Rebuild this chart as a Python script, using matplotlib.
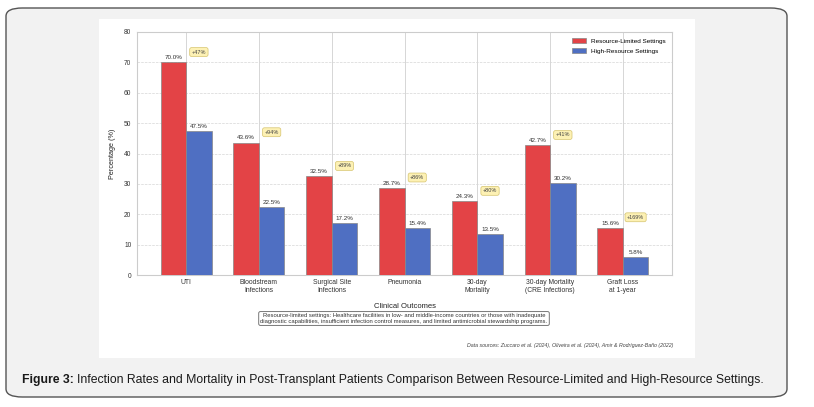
import numpy as np
import matplotlib.pyplot as plt
from matplotlib.patches import FancyBboxPatch

plt.rcParams['font.family'] = ['Liberation Sans', 'DejaVu Sans']

# 数据
categories = ["UTI", "Bloodstream\nInfections", "Surgical Site\nInfections", "Pneumonia",
              "30-day\nMortality", "30-day Mortality\n(CRE Infections)", "Graft Loss\nat 1-year"]
limited = [70.0, 43.6, 32.5, 28.7, 24.3, 42.7, 15.6]
high = [47.5, 22.5, 17.2, 15.4, 13.5, 30.2, 5.8]
diff_labels = ["+47%", "+94%", "+89%", "+86%", "+80%", "+41%", "+169%"]

red = '#e34346'
blue = '#4f6fc2'

fig = plt.figure(figsize=(8.14, 4.07), dpi=100)

# 外框
outer = FancyBboxPatch((6/814, 10/407), 781/814, 389/407,
                       boxstyle="round,pad=0,rounding_size=0.02",
                       transform=fig.transFigure, facecolor='#f2f2f2',
                       edgecolor='#555555', linewidth=1.0, zorder=-3)
fig.patches.append(outer)
# 白色图区
fig.patches.append(plt.Rectangle((99/814, 1 - 358/407), 596/814, 339/407,
                                 transform=fig.transFigure, facecolor='white',
                                 edgecolor='none', zorder=-2))

ax = fig.add_axes([137/814, 1 - 275/407, 535/814, 243/407])
ax.set_facecolor('white')
x = np.arange(len(categories))
w = 0.35
ax.bar(x - w/2, limited, w, color=red, edgecolor='#888888', linewidth=0.5,
       label='Resource-Limited Settings', zorder=3)
ax.bar(x + w/2, high, w, color=blue, edgecolor='#888888', linewidth=0.5,
       label='High-Resource Settings', zorder=3)

for i in range(len(categories)):
    ax.annotate(f"{limited[i]:.1f}%", (x[i] - w/2, limited[i]), xytext=(0, 1.5),
                textcoords='offset points', ha='center', va='bottom',
                fontsize=4.5, color='#333333')
    ax.annotate(f"{high[i]:.1f}%", (x[i] + w/2, high[i]), xytext=(0, 1.5),
                textcoords='offset points', ha='center', va='bottom',
                fontsize=4.5, color='#333333')
    ax.text(x[i] + w/2, limited[i] + 3.4, diff_labels[i], ha='center', va='center',
            fontsize=4.0, color='#444444',
            bbox=dict(boxstyle='round,pad=0.35', facecolor='#fdf1b4',
                      edgecolor='#d6c46e', linewidth=0.5))

ax.set_xlim(-0.675, 6.675)
ax.set_ylim(0, 80)
ax.set_yticks(range(0, 81, 10))
ax.set_xticks(x)
ax.set_xticklabels(categories, fontsize=4.9, color='#333333')
ax.tick_params(axis='y', labelsize=4.8, colors='#333333', length=0, pad=4)
ax.tick_params(axis='x', length=0, pad=3)
ax.set_xlabel("Clinical Outcomes", fontsize=5.5, color='#222222', labelpad=6)
ax.set_ylabel("Percentage (%)", fontsize=5.2, color='#222222', labelpad=6)

ax.grid(axis='x', color='#d6d6d6', linewidth=0.7, linestyle='-', zorder=0)
ax.grid(axis='y', color='#d6d6d6', linewidth=0.5, linestyle='--', zorder=0)
for s in ax.spines.values():
    s.set_color('#cccccc')
    s.set_linewidth(0.8)

ax.legend(loc='upper right', fontsize=4.6, frameon=False, handlelength=2.2,
          handleheight=0.8, borderaxespad=0.6, labelspacing=0.6)

fig.text(404/814, 1 - 318.5/407,
         "Resource-limited settings: Healthcare facilities in low- and middle-income countries or those with inadequate\n"
         "diagnostic capabilities, insufficient infection control measures, and limited antimicrobial stewardship programs.",
         ha='center', va='center', fontsize=4.2, color='#333333', linespacing=1.1,
         bbox=dict(boxstyle='round,pad=0.3', facecolor='white', edgecolor='#777777', linewidth=0.7))

fig.text(673/814, 1 - 345/407,
         "Data sources: Zuccaro et al. (2024), Oliveira et al. (2024), Amir & Rodríguez-Baño (2022)",
         ha='right', va='center', fontsize=3.75, style='italic', color='#444444')

t1 = fig.text(22/814, 1 - 380/407, "Figure 3:", ha='left', va='center',
              fontsize=8.8, fontweight='bold', color='#1a1a1a')
fig.canvas.draw()
bb = t1.get_window_extent()
fig.text((bb.x1 + 3) / 814, 1 - 380/407,
         "Infection Rates and Mortality in Post-Transplant Patients Comparison Between Resource-Limited and High-Resource Settings.",
         ha='left', va='center', fontsize=8.8, color='#1a1a1a')

fig.savefig('out.png', dpi=100, facecolor='white')
